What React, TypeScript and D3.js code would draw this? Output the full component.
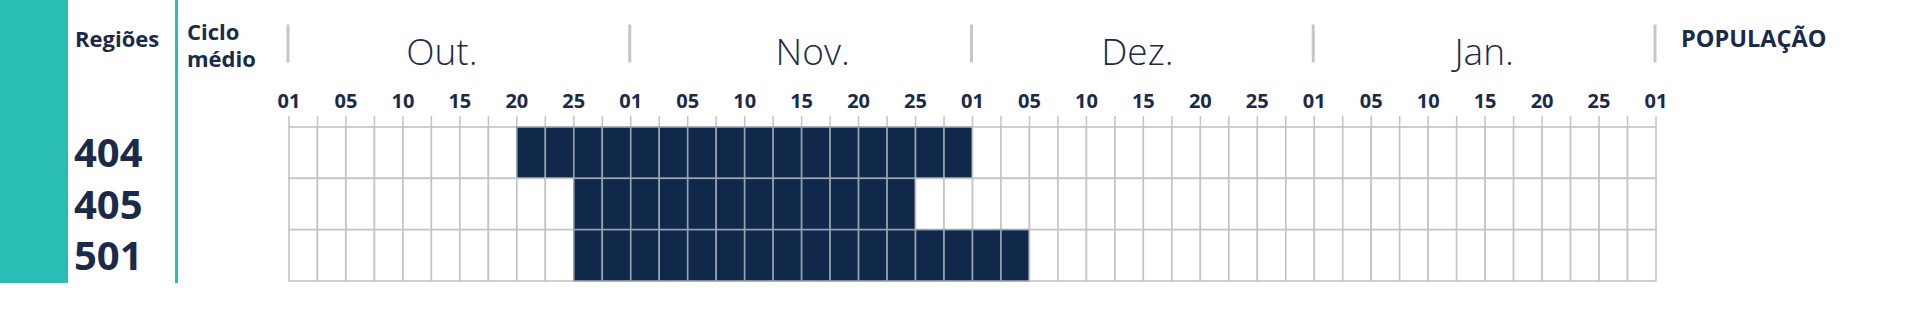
import React from "react";
import * as d3 from "d3";

const regions = ["404", "405", "501"];
const months = ["Out.", "Nov.", "Dez.", "Jan."];
const dayTicks = ["01", "05", "10", "15", "20", "25"];
const nextMonthTick = "01";
// average cycle per region: start / end (month, day tick)
const cycleStart = [
  ["Out.", "20"],
  ["Out.", "25"],
  ["Out.", "25"],
];
const cycleEnd = [
  ["Dez.", "01"],
  ["Nov.", "25"],
  ["Dez.", "05"],
];

const W = 1921;
const H = 309;
const NAVY = "#10294b";
const TEXT = "#1b2a4b";
const TEAL = "#29bdb3";
const GRID = "#c3c3c3";
const FONT = "'Open Sans', 'Noto Sans', sans-serif";
// layout: horizontal nudge of each month title from its month's centre
const MONTH_LABEL_DX = [-18, 11, -6, -1];

const cellsPerTick = 2;
const cellsPerMonth = dayTicks.length * cellsPerTick;
const nCells = months.length * cellsPerMonth;

function slot(d: string[]) {
  return months.indexOf(d[0]) * cellsPerMonth + dayTicks.indexOf(d[1]) * cellsPerTick;
}

export default function App() {
  const x = d3.scaleLinear().domain([0, nCells]).range([289, 1656]);
  const y = d3.scaleBand<string>().domain(regions).range([127, 281]).padding(0);
  const cells = d3.range(nCells);

  const rows = regions.map((r, i) => ({
    region: r,
    start: slot(cycleStart[i]),
    end: slot(cycleEnd[i]),
  }));

  const dayLabels: { label: string; pos: number }[] = [];
  months.forEach((_, m) => {
    dayTicks.forEach((t, k) => dayLabels.push({ label: t, pos: m * cellsPerMonth + k * cellsPerTick }));
  });
  dayLabels.push({ label: nextMonthTick, pos: nCells });

  return (
    <svg
      width={W}
      height={H}
      style={{ position: "absolute", left: 0, top: 0, background: "#fff" }}
      fontFamily={FONT}
    >
      <rect x={0} y={0} width={68} height={283} fill={TEAL} />
      <rect x={175} y={0} width={3} height={283} fill={TEAL} />

      <text x={75} y={46.5} fontSize={22} fontWeight={700} fill={TEXT}>
        Regiões
      </text>
      <text x={187} y={40} fontSize={22} fontWeight={700} fill={TEXT}>
        Ciclo
      </text>
      <text x={187} y={67} fontSize={22} fontWeight={700} fill={TEXT}>
        médio
      </text>
      <text x={1681} y={46.5} fontSize={23.5} fontWeight={700} fill={TEXT}>
        POPULAÇÃO
      </text>

      {/* month separators */}
      {d3.range(months.length + 1).map((m) => (
        <line
          key={"sep" + m}
          x1={x(m * cellsPerMonth) - 1}
          x2={x(m * cellsPerMonth) - 1}
          y1={24.5}
          y2={62.5}
          stroke="#c6c6c6"
          strokeWidth={3}
        />
      ))}
      {months.map((mo, m) => (
        <text
          key={mo}
          x={(x(m * cellsPerMonth) + x((m + 1) * cellsPerMonth)) / 2 + MONTH_LABEL_DX[m]}
          y={65}
          textAnchor="middle"
          fontSize={37}
          fontWeight={300}
          fill={TEXT}
        >
          {mo}
        </text>
      ))}

      {dayLabels.map((d, i) => (
        <text
          key={"d" + i}
          x={x(d.pos)}
          y={107.5}
          textAnchor="middle"
          fontSize={20}
          fontWeight={700}
          fill={TEXT}
        >
          {d.label}
        </text>
      ))}

      {/* small ticks above grid */}
      {d3.range(nCells + 1).map((i) => (
        <line key={"t" + i} x1={x(i)} x2={x(i)} y1={116} y2={127} stroke={GRID} strokeWidth={1.5} />
      ))}

      {/* grid cells */}
      {rows.map((row) =>
        cells.map((c) => {
          const filled = c >= row.start && c < row.end;
          return (
            <rect
              key={row.region + "-" + c}
              x={x(c)}
              y={y(row.region)!}
              width={x(c + 1) - x(c)}
              height={y.bandwidth()}
              fill={filled ? NAVY : "#ffffff"}
              stroke={filled ? "#98a2ae" : GRID}
              strokeWidth={1.6}
            />
          );
        })
      )}

      {regions.map((r) => (
        <text
          key={"lbl" + r}
          x={74}
          y={y(r)! + y.bandwidth() / 2 + 14.5}
          fontSize={40}
          fontWeight={700}
          fill={TEXT}
        >
          {r}
        </text>
      ))}
    </svg>
  );
}
